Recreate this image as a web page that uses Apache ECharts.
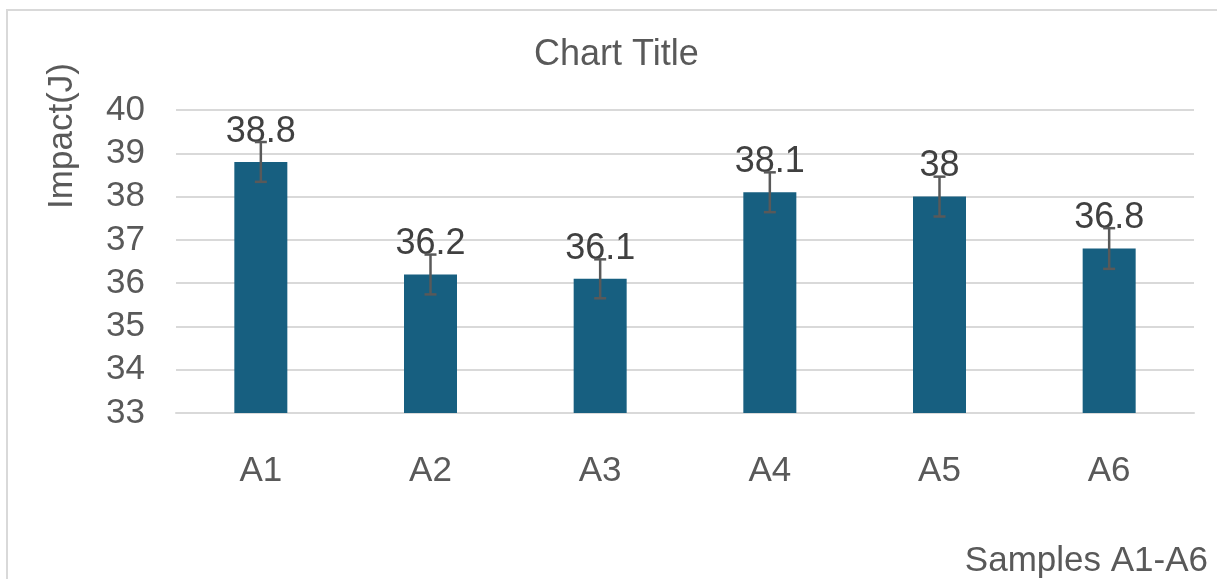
<!DOCTYPE html>
<html lang="en">
<head>
    <meta charset="utf-8">
    <script src="https://cdn.jsdelivr.net/npm/echarts@6/dist/echarts.min.js"></script>
    <title>Chart Title</title>
    <style>
        html, body { margin: 0; padding: 0; background: #fff; }
        #container { width: 1217px; height: 579px; }
    </style>
</head>
<body>
<div id="container"></div>
<script type="text/javascript">
    // data
    const categories = ['A1', 'A2', 'A3', 'A4', 'A5', 'A6'];
    const impact = [38.8, 36.2, 36.1, 38.1, 38, 36.8];
    const errors = [0.46, 0.46, 0.45, 0.46, 0.46, 0.47];

    const font = '"Liberation Sans", Arial, sans-serif';
    const grey = '#595959';

    const myChart = echarts.init(document.getElementById('container'), null, {renderer: 'canvas'});

    const errData = categories.map((c, i) => [i, impact[i] - errors[i], impact[i] + errors[i]]);

    const option = {
        animation: false,
        title: {
            text: 'Chart Title',
            left: 529,
            top: 32,
            textStyle: {fontFamily: font, fontSize: 36, fontWeight: 'normal', color: grey}
        },
        grid: {left: 176, right: 23, top: 110, bottom: 166},
        xAxis: {
            type: 'category',
            data: categories,
            axisLine: {lineStyle: {color: '#d9d9d9', width: 2}},
            axisTick: {show: false},
            axisLabel: {margin: 41, fontFamily: font, fontSize: 35, color: grey}
        },
        yAxis: {
            type: 'value',
            min: 33,
            max: 40,
            interval: 1,
            axisLine: {show: false},
            axisTick: {show: false},
            axisLabel: {margin: 31, fontFamily: font, fontSize: 35, color: grey},
            splitLine: {lineStyle: {color: '#d9d9d9', width: 2}}
        },
        graphic: [
            {
                type: 'rect',
                shape: {x: 7, y: 10, width: 1400, height: 800},
                style: {fill: 'none', stroke: '#d9d9d9', lineWidth: 2},
                silent: true
            },
            {
                type: 'text',
                x: 62,
                y: 136,
                rotation: Math.PI / 2,
                style: {
                    text: 'Impact(J)', fontFamily: font, fontSize: 35, fill: grey,
                    align: 'center', verticalAlign: 'middle'
                }
            },
            {
                type: 'text',
                x: 1208,
                y: 561,
                style: {
                    text: 'Samples A1-A6', fontFamily: font, fontSize: 35, fill: grey,
                    align: 'right', verticalAlign: 'middle'
                }
            }
        ],
        series: [
            {
                type: 'bar',
                data: impact,
                barWidth: 53,
                itemStyle: {color: '#175f80'},
                label: {
                    show: true,
                    position: 'top',
                    distance: 12,
                    fontFamily: font,
                    fontSize: 36,
                    color: '#404040'
                },
                z: 2
            },
            {
                type: 'custom',
                data: errData,
                z: 5,
                renderItem: function (params, api) {
                    const x = api.value(0);
                    const lo = api.coord([x, api.value(1)]);
                    const hi = api.coord([x, api.value(2)]);
                    const half = 6;
                    const style = {stroke: grey, lineWidth: 2.5};
                    return {
                        type: 'group',
                        children: [
                            {type: 'line', shape: {x1: lo[0], y1: lo[1], x2: hi[0], y2: hi[1]}, style},
                            {type: 'line', shape: {x1: hi[0] - half, y1: hi[1], x2: hi[0] + half, y2: hi[1]}, style},
                            {type: 'line', shape: {x1: lo[0] - half, y1: lo[1], x2: lo[0] + half, y2: lo[1]}, style}
                        ]
                    };
                }
            }
        ]
    };

    myChart.setOption(option);
    window.onresize = function () {
        myChart.resize();
    };
</script>
</body>
</html>
